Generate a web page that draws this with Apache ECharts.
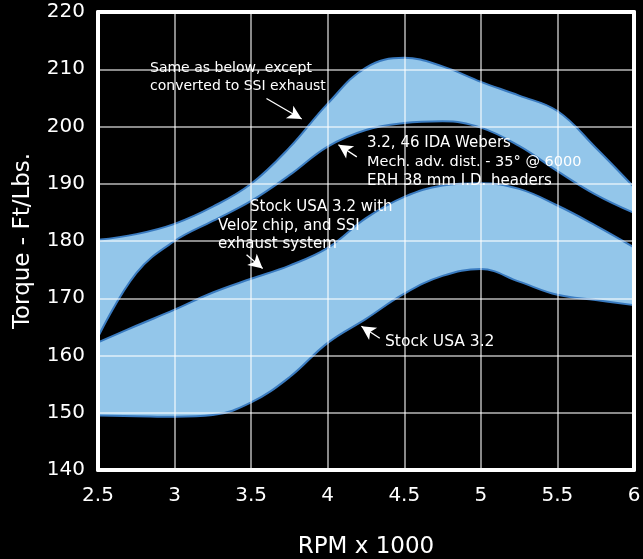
<!DOCTYPE html>
<html>
<head>
<meta charset="utf-8">
<script src="https://cdn.jsdelivr.net/npm/echarts@6/dist/echarts.min.js"></script>
<style>
html,body{margin:0;padding:0;background:#000;}
#c{width:643px;height:559px;}
</style>
</head>
<body>
<div id="c"></div>
<script>
// RPM x 1000
var rpm = [2.5, 2.75, 3.0, 3.25, 3.5, 3.75, 4.0, 4.25, 4.5, 4.75, 5.0, 5.25, 5.5, 5.75, 6.0];
// Upper band: "Same as below, except converted to SSI exhaust" (top edge)
var ssiConverted = [180.2, 181.2, 183.0, 186.0, 190.0, 196.3, 204.0, 210.3, 212.0, 210.5, 207.8, 205.4, 202.7, 196.3, 189.4];
// Upper band: "3.2, 46 IDA Webers ..." (bottom edge)
var idaWebers = [163.2, 174.4, 180.0, 183.5, 187.0, 191.5, 196.5, 199.4, 200.6, 200.9, 199.8, 196.6, 192.2, 188.1, 184.9];
// Lower band: "Stock USA 3.2 with Veloz chip, and SSI exhaust system" (top edge)
var velozSsi = [162.3, 165.2, 168.0, 171.0, 173.4, 175.7, 178.8, 184.0, 187.7, 189.7, 190.1, 189.1, 186.2, 182.7, 178.9];
// Lower band: "Stock USA 3.2" (bottom edge)
var stock = [149.5, 149.4, 149.3, 149.6, 151.8, 156.2, 162.2, 166.4, 170.8, 173.9, 175.1, 172.9, 170.6, 169.7, 168.8];

var yTicks = [140, 150, 160, 170, 180, 190, 200, 210, 220];
var xTicks = [2.5, 3, 3.5, 4, 4.5, 5, 5.5, 6];

var FILL = '#93c6ea';
var BG = '#000000';
var EDGE = '#3a7bc0';
var FONT = '"DejaVu Sans", sans-serif';

function pts(arr) { return rpm.map(function (x, i) { return [x, arr[i]]; }); }

// Each band = upper curve filled down to the axis start in blue, then the lower
// curve filled down in the background colour (painter's order by z).
function curve(name, arr, fill, z) {
  return {
    name: name, type: 'line', data: pts(arr), smooth: 0.4, z: z,
    symbol: 'none', silent: true,
    lineStyle: { color: EDGE, width: 2 },
    areaStyle: { color: fill, opacity: 1, origin: 'start' }
  };
}

var arrowStyle = { color: '#fff', width: 1.3, type: 'solid' };
function arrow(from, to) { return [{ coord: from }, { coord: to }]; }
function withArrows(s, list) {
  s.markLine = {
    silent: true, symbol: ['none', 'arrow'], symbolSize: [11, 14],
    label: { show: false }, lineStyle: arrowStyle, z: 20, data: list
  };
  return s;
}

var chart = echarts.init(document.getElementById('c'));
var gridLine = { show: true, lineStyle: { color: 'rgba(255,255,255,0.72)', width: 1.5 } };
var frame = { show: true, onZero: false, lineStyle: { color: '#fff', width: 4 } };
var option = {
  backgroundColor: BG,
  animation: false,
  grid: { left: 98, right: 9, top: 12, bottom: 89, containLabel: false, outerBoundsMode: 'none' },
  xAxis: [
    {
      type: 'value', z: 10, min: 2.5, max: 6, interval: 0.5, position: 'bottom',
      name: 'RPM x 1000', nameLocation: 'middle', nameGap: 66,
      nameTextStyle: { color: '#fff', fontSize: 23, fontFamily: FONT },
      axisLine: frame, axisTick: { show: false },
      axisLabel: { color: '#fff', fontSize: 20, margin: 16, fontFamily: FONT,
        formatter: function (v) { return xTicks.indexOf(v) >= 0 ? String(v) : ''; } },
      splitLine: gridLine
    },
    {
      type: 'value', z: 10, min: 2.5, max: 6, interval: 0.5, position: 'top',
      axisLine: frame, axisTick: { show: false }, axisLabel: { show: false }, splitLine: { show: false }
    }
  ],
  yAxis: [
    {
      type: 'value', z: 10, min: 140, max: 220, interval: 10, position: 'left',
      name: 'Torque - Ft/Lbs.', nameLocation: 'middle', nameGap: 63, nameRotate: 90,
      nameTextStyle: { color: '#fff', fontSize: 23, fontFamily: FONT },
      axisLine: frame, axisTick: { show: false },
      axisLabel: { color: '#fff', fontSize: 20, margin: 13, fontFamily: FONT,
        formatter: function (v) { return yTicks.indexOf(v) >= 0 ? String(v) : ''; } },
      splitLine: gridLine
    },
    {
      type: 'value', z: 10, min: 140, max: 220, interval: 10, position: 'right',
      axisLine: frame, axisTick: { show: false }, axisLabel: { show: false }, splitLine: { show: false }
    }
  ],
  series: [
    withArrows(curve('Same as below, except converted to SSI exhaust', ssiConverted, FILL, 1),
      [arrow([3.6, 204.9], [3.83, 201.3]), arrow([4.19, 194.7], [4.07, 196.8])]),
    curve('3.2, 46 IDA Webers', idaWebers, BG, 2),
    withArrows(curve('Stock USA 3.2 with Veloz chip, and SSI exhaust system', velozSsi, FILL, 3),
      [arrow([3.47, 177.6], [3.575, 175.2]), arrow([4.34, 163.0], [4.22, 165.1])]),
    curve('Stock USA 3.2', stock, BG, 4)
  ],
  graphic: [
    { type: 'text', left: 150, top: 61, z: 30, style: { text: 'Same as below, except', fill: '#fff', font: '14px ' + FONT } },
    { type: 'text', left: 150, top: 79, z: 30, style: { text: 'converted to SSI exhaust', fill: '#fff', font: '14px ' + FONT } },
    { type: 'text', left: 367, top: 136, z: 30, style: { text: '3.2, 46 IDA Webers', fill: '#fff', font: '15px ' + FONT } },
    { type: 'text', left: 367, top: 155, z: 30, style: { text: 'Mech. adv. dist. - 35\u00b0 @ 6000', fill: '#fff', font: '14.5px ' + FONT } },
    { type: 'text', left: 367, top: 174, z: 30, style: { text: 'ERH 38 mm I.D. headers', fill: '#fff', font: '15px ' + FONT } },
    { type: 'text', left: 250, top: 200, z: 30, style: { text: 'Stock USA 3.2 with', fill: '#fff', font: '15px ' + FONT } },
    { type: 'text', left: 218, top: 219, z: 30, style: { text: 'Veloz chip, and SSI', fill: '#fff', font: '15px ' + FONT } },
    { type: 'text', left: 218, top: 237, z: 30, style: { text: 'exhaust system', fill: '#fff', font: '15px ' + FONT } },
    { type: 'text', left: 385, top: 334, z: 30, style: { text: 'Stock USA 3.2', fill: '#fff', font: '15.5px ' + FONT } }
  ]
};
chart.setOption(option);
</script>
</body>
</html>
